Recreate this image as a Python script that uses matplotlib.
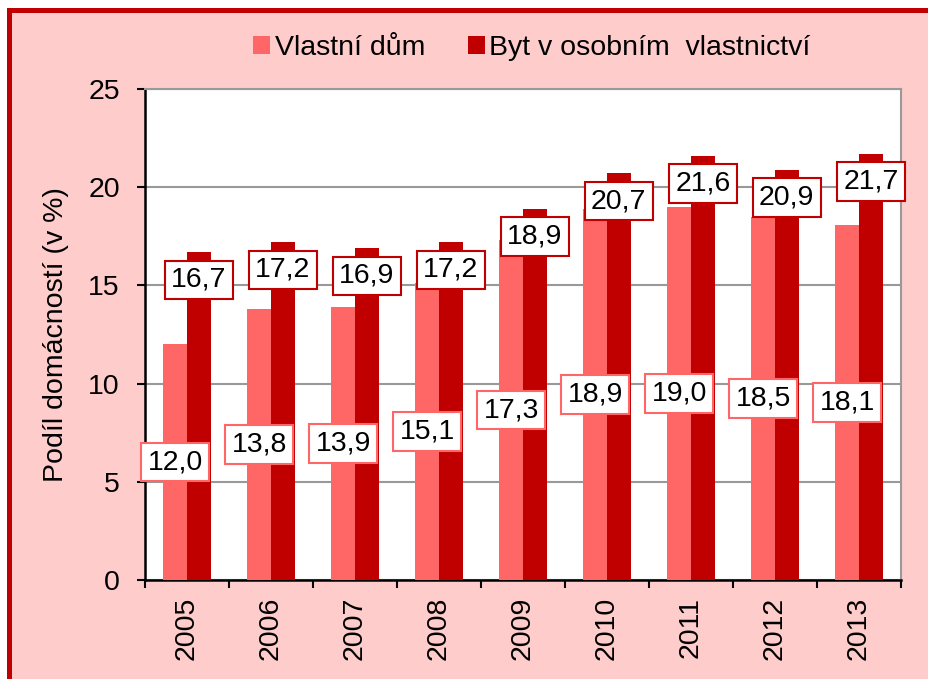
import matplotlib
matplotlib.use("Agg")
import matplotlib.pyplot as plt
from matplotlib.patches import Rectangle
import numpy as np

years = ["2005", "2006", "2007", "2008", "2009", "2010", "2011", "2012", "2013"]
vlastni_dum = [12.0, 13.8, 13.9, 15.1, 17.3, 18.9, 19.0, 18.5, 18.1]
byt_osobni = [16.7, 17.2, 16.9, 17.2, 18.9, 20.7, 21.6, 20.9, 21.7]
series_names = ["Vlastní dům", "Byt v osobním  vlastnictví"]
y_label = "Podíl domácností (v %)"

LIGHT = "#FF6666"
DARK = "#C00000"
PINK = "#FFCCCC"
FS = 20.5

plt.rcParams['font.family'] = ['Liberation Sans', 'DejaVu Sans']

W, H = 929, 679
fig = plt.figure(figsize=(W / 100, H / 100), dpi=100, facecolor="white")

# outer frame
frame = Rectangle((9.5 / W, -0.2), 1.5, 1.2 - 9.5 / H, transform=fig.transFigure,
                  facecolor=PINK, edgecolor=DARK, linewidth=3.6, zorder=-10)
fig.patches.append(frame)

left, right, top, bottom = 145, 901, 89, 580
ax = fig.add_axes([left / W, 1 - bottom / H, (right - left) / W, (bottom - top) / H])
ax.set_zorder(2)
ax.set_facecolor("white")

x = np.arange(len(years))
bw = 0.28
ax.bar(x - bw / 2, vlastni_dum, width=bw, color=LIGHT, label=series_names[0], zorder=3)
ax.bar(x + bw / 2, byt_osobni, width=bw, color=DARK, label=series_names[1], zorder=3)

fmt = lambda v: f"{v:.1f}".replace(".", ",")
for xi, v in zip(x - bw / 2, vlastni_dum):
    ax.text(xi, v / 2, fmt(v), ha="center", va="center", fontsize=FS, zorder=5,
            bbox=dict(boxstyle="square,pad=0.22", facecolor="white", edgecolor=LIGHT, linewidth=1.5))
for xi, v in zip(x + bw / 2, byt_osobni):
    ax.annotate(fmt(v), xy=(xi, v), xytext=(0, -20), textcoords="offset points",
                ha="center", va="center", fontsize=FS, zorder=5,
                bbox=dict(boxstyle="square,pad=0.22", facecolor="white", edgecolor=DARK, linewidth=1.5))

ax.set_xlim(-0.5, len(years) - 0.5)
ax.set_ylim(0, 25)
ax.set_yticks([0, 5, 10, 15, 20, 25])
ax.yaxis.grid(True, color="#999999", linewidth=1.5, zorder=1)
ax.set_axisbelow(True)

ax.set_xticks(np.arange(-0.5, len(years), 1.0))
ax.set_xticklabels([])
ax.set_xticks(x, minor=True)
ax.set_xticklabels(years, minor=True, rotation=90, fontsize=FS)
ax.tick_params(axis="x", which="major", length=6, width=1.5, color="black", direction="out")
ax.tick_params(axis="x", which="minor", length=0, pad=12)
ax.tick_params(axis="y", length=6, width=1.5, color="black", direction="out", labelsize=FS, pad=12)

for s in ["left", "bottom"]:
    ax.spines[s].set_color("black")
    ax.spines[s].set_linewidth(1.8)
for s in ["right", "top"]:
    ax.spines[s].set_color("#999999")
    ax.spines[s].set_linewidth(1.5)

ax.set_ylabel(y_label, fontsize=FS, labelpad=14)

leg = fig.legend(loc="center", bbox_to_anchor=(532 / W, 1 - 48 / H), ncol=2, frameon=False,
                 fontsize=FS, handlelength=0.6, handleheight=0.6, handletextpad=0.15,
                 columnspacing=1.5, borderpad=0)

fig.savefig("out.png", dpi=100, facecolor="white")
